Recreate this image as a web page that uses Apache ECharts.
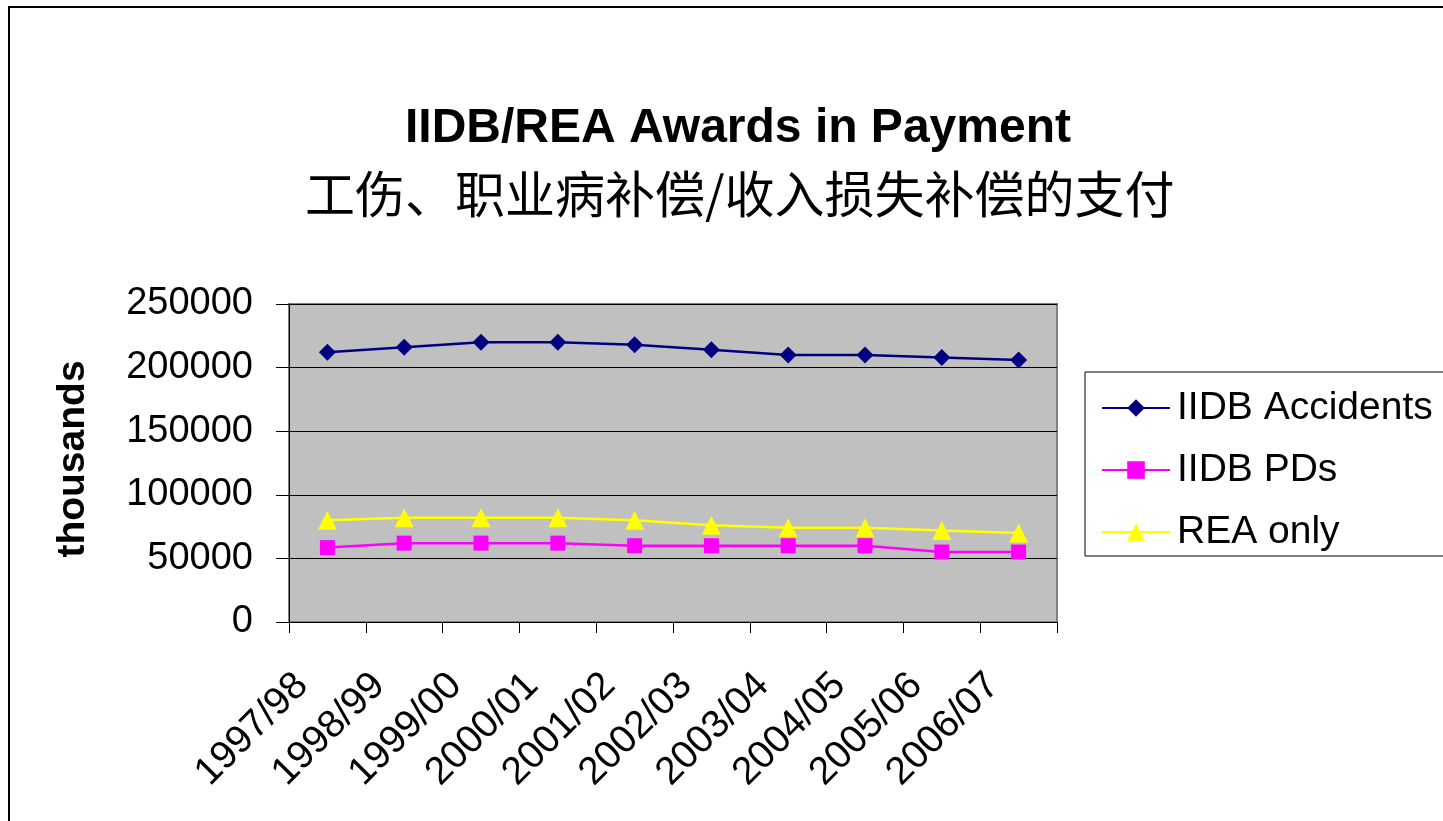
<!DOCTYPE html>
<html>
<head>
<meta charset="utf-8">
<title>IIDB/REA Awards in Payment</title>
<script src="https://cdn.jsdelivr.net/npm/echarts@6/dist/echarts.min.js"></script>
<style>
    html, body { margin: 0; padding: 0; background: #fff; }
    #main { width: 1443px; height: 821px; }
</style>
</head>
<body>
<div id="main"></div>
<script>
// 数据
var years = ["1997/98", "1998/99", "1999/00", "2000/01", "2001/02",
             "2002/03", "2003/04", "2004/05", "2005/06", "2006/07"];
var iidbAccidents = [212000, 216000, 220000, 220000, 218000, 214000, 210000, 210000, 208000, 206000];
var iidbPDs = [58500, 62000, 62000, 62000, 60000, 60000, 60000, 60000, 55000, 55000];
var reaOnly = [80000, 82000, 82000, 82000, 80000, 76000, 74000, 74000, 72000, 70000];
var yTicks = [0, 50000, 100000, 150000, 200000, 250000];

(function() {
    var myChart = echarts.init(document.getElementById("main"));
    var font = "Arial, 'Liberation Sans', sans-serif";

    var option = {
        backgroundColor: "#fff",
        animation: false,
        // 外框
        graphic: [
            {
                type: "rect",
                shape: { x: 9, y: 7, width: 1600, height: 1000 },
                style: { fill: "none", stroke: "#000", lineWidth: 2 },
                silent: true,
                z: -10
            }
        ],
        title: [
            {
                text: "IIDB/REA Awards in Payment",
                left: 400,
                top: 100,
                textStyle: { fontFamily: font, fontWeight: "bold", fontSize: 48, color: "#000" }
            },
            {
                text: "工伤、职业病补偿/收入损失补偿的支付",
                left: 300,
                top: 164,
                textStyle: { fontFamily: "'Noto Sans CJK SC', sans-serif", fontWeight: "normal", fontSize: 50, color: "#000" }
            }
        ],
        legend: {
            orient: "vertical",
            left: 1085,
            top: 372,
            padding: [16, 30, 4, 16],
            itemWidth: 68,
            itemHeight: 22,
            itemGap: 22,
            borderColor: "#000",
            borderWidth: 1,
            backgroundColor: "#fff",
            textStyle: { fontFamily: font, fontSize: 39, color: "#000", lineHeight: 40, padding: [0, 0, 0, 2] },
            data: ["IIDB Accidents", "IIDB PDs", "REA only"]
        },
        grid: {
            left: 289,
            top: 304,
            width: 768,
            height: 318,
            show: true,
            backgroundColor: "#C0C0C0",
            borderColor: "#808080",
            borderWidth: 2,
            containLabel: false
        },
        xAxis: {
            type: "category",
            data: years,
            boundaryGap: true,
            axisLine: { lineStyle: { color: "#000", width: 1 } },
            axisTick: { show: true, length: 11, lineStyle: { color: "#000" } },
            axisLabel: {
                rotate: 45,
                interval: 0,
                margin: 32,
                padding: [0, 36, 0, 0],
                fontFamily: font,
                fontSize: 39,
                color: "#000"
            },
            splitLine: { show: false }
        },
        yAxis: {
            type: "value",
            min: yTicks[0],
            max: yTicks[yTicks.length - 1],
            interval: 50000,
            name: "thousands",
            nameLocation: "middle",
            nameGap: 196,
            nameTextStyle: { fontFamily: font, fontWeight: "bold", fontSize: 39, color: "#000", padding: [0, 0, 0, 8] },
            axisLine: { show: true, lineStyle: { color: "#000", width: 1 } },
            axisTick: { show: true, length: 13, lineStyle: { color: "#000" } },
            axisLabel: {
                margin: 36,
                fontFamily: font,
                fontSize: 38,
                color: "#000",
                formatter: function(v) { return String(v); }
            },
            splitLine: { show: true, lineStyle: { color: "#000", width: 1 } }
        },
        series: [
            {
                name: "IIDB Accidents",
                type: "line",
                data: iidbAccidents,
                symbol: "diamond",
                symbolSize: 17,
                lineStyle: { color: "#000080", width: 2.5 },
                itemStyle: { color: "#000080" }
            },
            {
                name: "IIDB PDs",
                type: "line",
                data: iidbPDs,
                symbol: "rect",
                symbolSize: 15,
                lineStyle: { color: "#FF00FF", width: 2.5 },
                itemStyle: { color: "#FF00FF" }
            },
            {
                name: "REA only",
                type: "line",
                data: reaOnly,
                symbol: "triangle",
                symbolSize: 19,
                lineStyle: { color: "#FFFF00", width: 2.5 },
                itemStyle: { color: "#FFFF00" }
            }
        ]
    };

    myChart.setOption(option);
    window.addEventListener("resize", function() {
        myChart.resize();
    });
})();
</script>
</body>
</html>
